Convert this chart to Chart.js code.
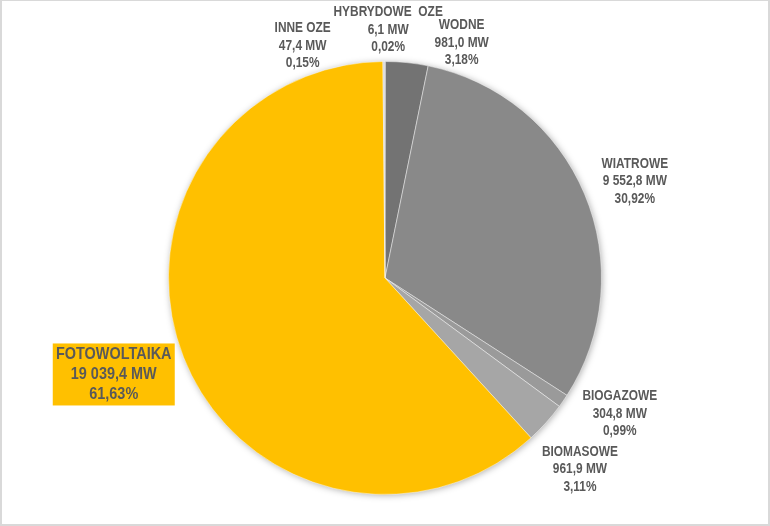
<!DOCTYPE html>
<html>
<head>
<meta charset="utf-8">
<script src="https://cdn.jsdelivr.net/npm/chart.js@4"></script>
<style>
  html, body { margin: 0; padding: 0; background: #fff; }
  #wrap { width: 770px; height: 526px; position: relative; }
</style>
</head>
<body>
<div id="wrap"><canvas id="oze" width="770" height="526"></canvas></div>
<script>
// moc zainstalowana OZE, kolejnosc zgodnie z ruchem wskazowek od godziny 12
const categories = ["HYBRYDOWE  OZE", "WODNE", "WIATROWE", "BIOGAZOWE", "BIOMASOWE", "FOTOWOLTAIKA", "INNE OZE"];
const capacityMW = [6.1, 981.0, 9552.8, 304.8, 961.9, 19039.4, 47.4];
const mwLabels = ["6,1 MW", "981,0 MW", "9 552,8 MW", "304,8 MW", "961,9 MW", "19 039,4 MW", "47,4 MW"];
const shareLabels = ["0,02%", "3,18%", "30,92%", "0,99%", "3,11%", "61,63%", "0,15%"];

const sliceColors = ["#c8c8c8", "#737373", "#898989", "#9a9a9a", "#a6a6a6", "#ffc000", "#d6d6d6"];
// przesuniecia etykiet wzgledem punktu na promieniu (px)
const labelShift = [[3, 26], [49, 38], [-3, 10], [9, -20], [-9, 8], [-16, -4], [-81, 42]];

const FONT = "'Liberation Sans', Arial, sans-serif";
const SQUEEZE = 0.85; // tekst w oryginale jest zwezony (Arial Narrow)

const pieShadow = {
  id: "pieShadow",
  beforeDatasetsDraw(chart) {
    const arc = chart.getDatasetMeta(0).data[0];
    if (!arc) return;
    const { x, y, outerRadius } = arc.getProps(["x", "y", "outerRadius"], true);
    const ctx = chart.ctx;
    ctx.save();
    ctx.shadowColor = "rgba(0,0,0,0.35)";
    ctx.shadowBlur = 7;
    ctx.shadowOffsetX = 1;
    ctx.shadowOffsetY = 1;
    ctx.fillStyle = "#bbbbbb";
    ctx.beginPath();
    ctx.arc(x, y, outerRadius - 0.5, 0, Math.PI * 2);
    ctx.fill();
    ctx.restore();
  }
};

const sliceLabels = {
  id: "sliceLabels",
  afterDatasetsDraw(chart) {
    const ctx = chart.ctx;
    const meta = chart.getDatasetMeta(0);
    meta.data.forEach((arc, i) => {
      const p = arc.getProps(["x", "y", "startAngle", "endAngle", "outerRadius"], true);
      const mid = (p.startAngle + p.endAngle) / 2;
      const R = p.outerRadius * 1.267;
      const cx = p.x + Math.cos(mid) * R + labelShift[i][0];
      const cy = p.y + Math.sin(mid) * R + labelShift[i][1];
      const big = i === 5;
      const size = big ? 17 : 14;
      const lh = big ? 20 : 17.5;
      const lines = [categories[i], mwLabels[i], shareLabels[i]];
      ctx.save();
      if (big) {
        ctx.fillStyle = "#ffc000";
        ctx.fillRect(cx - 61, cy - 31, 122, 62);
      }
      ctx.translate(cx, cy);
      ctx.scale(SQUEEZE, 1);
      ctx.font = "bold " + size + "px " + FONT;
      ctx.textAlign = "center";
      ctx.textBaseline = "middle";
      ctx.fillStyle = "#595959";
      lines.forEach((t, k) => ctx.fillText(t, 0, (k - 1) * lh));
      ctx.restore();
    });
  }
};

const frame = {
  id: "frame",
  afterDraw(chart) {
    const ctx = chart.ctx;
    ctx.save();
    ctx.strokeStyle = "#d9d9d9";
    ctx.lineWidth = 2;
    ctx.strokeRect(1, 0, chart.width - 2, chart.height - 1);
    ctx.restore();
  }
};

new Chart(document.getElementById("oze"), {
  type: "pie",
  data: {
    labels: categories,
    datasets: [{
      data: capacityMW,
      backgroundColor: sliceColors,
      borderColor: "rgba(255,255,255,0.45)",
      borderWidth: 1,
      hoverOffset: 0
    }]
  },
  options: {
    responsive: false,
    animation: false,
    layout: { padding: { top: 61, bottom: 31, left: 0, right: 0 } },
    plugins: {
      legend: { display: false },
      tooltip: { enabled: false }
    }
  },
  plugins: [pieShadow, sliceLabels, frame]
});
</script>
</body>
</html>
